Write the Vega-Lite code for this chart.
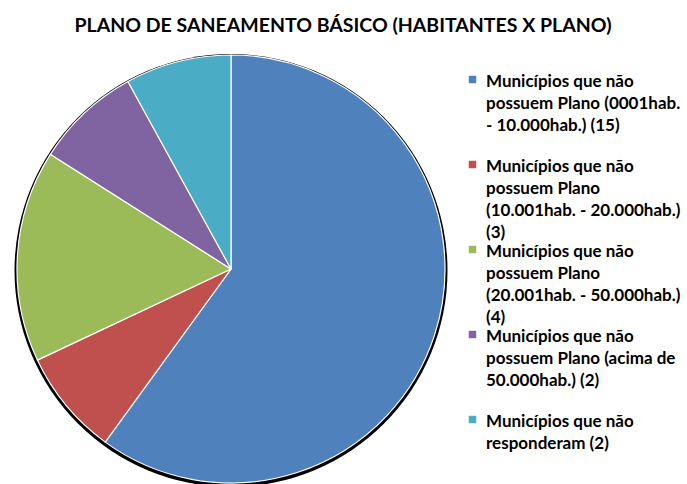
{
  "$schema": "https://vega.github.io/schema/vega-lite/v6.json",
  "width": 428,
  "height": 428,
  "autosize": {"type": "none"},
  "padding": {"left": 17, "top": 55, "right": 242, "bottom": 1},
  "background": "white",
  "title": {
    "text": "PLANO DE SANEAMENTO BÁSICO (HABITANTES X PLANO)",
    "font": "Lato",
    "fontSize": 19.5,
    "fontWeight": "bold",
    "color": "black",
    "anchor": "middle",
    "dx": 112,
    "offset": 16
  },
  "config": {
    "view": {"stroke": null},
    "style": {"guide-label": {"lineHeight": 22, "dy": -6}}
  },
  "resolve": {"scale": {"theta": "independent"}},
  "layer": [
    {
      "data": {"values": [{"v": 1}]},
      "mark": {"type": "arc", "radius": 216.5, "color": "black", "yOffset": 1.5},
      "encoding": {"theta": {"field": "v", "type": "quantitative"}}
    },
    {
      "data": {
        "values": [
          {"categoria": "Municípios que não|possuem Plano (0001hab.|- 10.000hab.) (15)", "municipios": 15, "ordem": 1},
          {"categoria": "Municípios que não|possuem Plano|(10.001hab. - 20.000hab.)|(3)", "municipios": 2, "ordem": 2},
          {"categoria": "Municípios que não|possuem Plano|(20.001hab. - 50.000hab.)|(4)", "municipios": 4, "ordem": 3},
          {"categoria": "Municípios que não|possuem Plano (acima de|50.000hab.) (2)", "municipios": 2, "ordem": 4},
          {"categoria": "Municípios que não|responderam (2)", "municipios": 2, "ordem": 5}
        ]
      },
      "mark": {"type": "arc", "radius": 214, "stroke": "white", "strokeWidth": 1.2},
      "encoding": {
        "theta": {"field": "municipios", "type": "quantitative", "stack": true},
        "order": {"field": "ordem", "type": "quantitative"},
        "color": {
          "field": "categoria",
          "type": "nominal",
          "scale": {
            "domain": [
              "Municípios que não|possuem Plano (0001hab.|- 10.000hab.) (15)",
              "Municípios que não|possuem Plano|(10.001hab. - 20.000hab.)|(3)",
              "Municípios que não|possuem Plano|(20.001hab. - 50.000hab.)|(4)",
              "Municípios que não|possuem Plano (acima de|50.000hab.) (2)",
              "Municípios que não|responderam (2)"
            ],
            "range": ["#4F81BD", "#C0504D", "#9BBB59", "#8064A2", "#4BACC6"]
          },
          "legend": {
            "title": null,
            "orient": "none",
            "legendX": 447,
            "legendY": 16,
            "symbolType": "square",
            "symbolSize": 56,
            "symbolStrokeWidth": 0,
            "labelFont": "Lato",
            "labelFontSize": 17,
            "labelFontWeight": "bold",
            "labelColor": "black",
            "labelLimit": 0,
            "labelBaseline": "top",
            "labelExpr": "split(datum.label, '|')",
            "labelOffset": 5,
            "gridAlign": "all",
            "rowPadding": -8
          }
        }
      }
    }
  ]
}
